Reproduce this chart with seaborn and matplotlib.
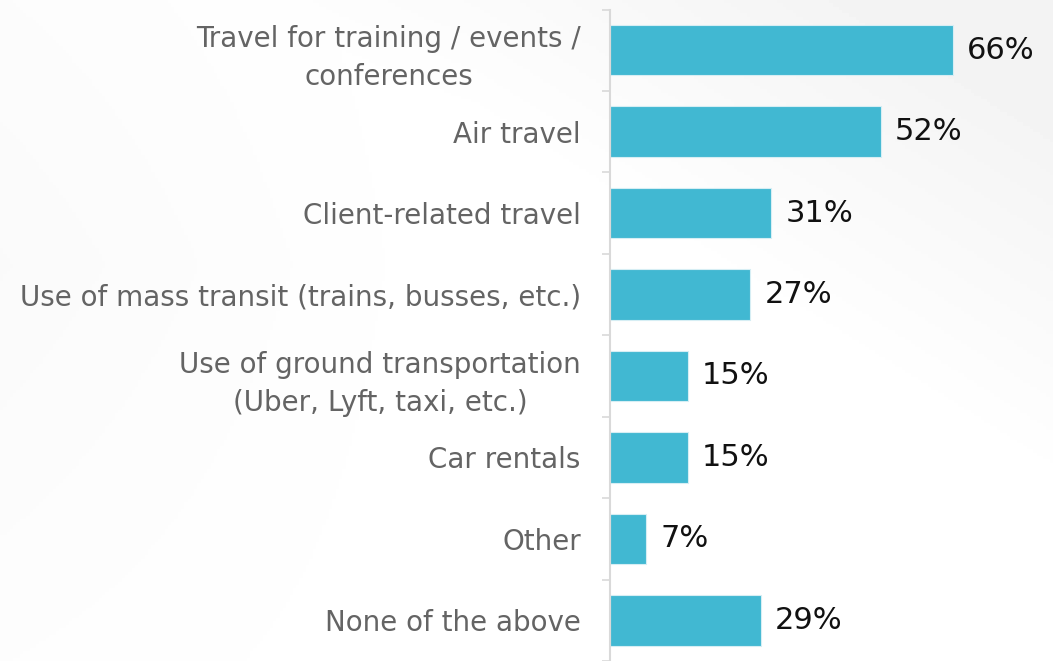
import numpy as np
import pandas as pd
import matplotlib
matplotlib.use('Agg')
import matplotlib.pyplot as plt
import seaborn as sns

categories = [
    'Travel for training / events /\nconferences',
    'Air travel',
    'Client-related travel',
    'Use of mass transit (trains, busses, etc.)',
    'Use of ground transportation\n(Uber, Lyft, taxi, etc.)',
    'Car rentals',
    'Other',
    'None of the above',
]
values = [66, 52, 31, 27, 15, 15, 7, 29]
value_labels = ['66%', '52%', '31%', '27%', '15%', '15%', '7%', '29%']

df = pd.DataFrame({'category': categories, 'pct': values})

sns.set_theme(style='white')
plt.rcParams['font.family'] = ['DejaVu Sans']

W, H = 1053, 661
fig = plt.figure(figsize=(W / 100, H / 100), dpi=100)

# soft grey background shading like the slide
bg = fig.add_axes([0, 0, 1, 1], zorder=-10)
yy, xx = np.mgrid[0:1:200j, 0:1:320j]
shade = 0.05 * np.clip((xx - yy) * 1.6 - 0.4, 0, 1) + 0.02 * np.clip(1 - xx * 2.2, 0, 1) * (1 - abs(yy - 0.4))
bg.imshow(1 - shade, cmap='gray', vmin=0, vmax=1, aspect='auto', extent=[0, 1, 0, 1])
bg.axis('off')

ax = fig.add_axes([610 / W, 0, 412 / W, (H - 9.5) / H])
ax.patch.set_alpha(0)
sns.barplot(data=df, x='pct', y='category', orient='h', color='#41B8D2',
            saturation=1, width=0.62, edgecolor='#d6eef4', linewidth=0.8, ax=ax)

ax.set_xlim(0, 79.2)
ax.set_ylim(7.445, -0.5)
ax.set_xlabel('')
ax.set_ylabel('')
ax.set_xticks([])

for i, (v, lab) in enumerate(zip(values, value_labels)):
    ax.text(v + 14 / 5.2, i, lab, va='center', ha='left', fontsize=22,
            color='#111111', clip_on=False)

ax.set_yticks(range(len(categories)))
ax.set_yticklabels(categories, fontsize=20, color='#646464', linespacing=1.45)
ax.set_yticks(np.arange(-0.5, 8, 1), minor=True)
ax.tick_params(axis='y', which='major', length=0, pad=21)
ax.tick_params(axis='y', which='minor', length=6, width=1.2, color='#d9d9d9', left=True)
for lab in ax.get_yticklabels():
    lab.set_horizontalalignment('right')
    lab.set_multialignment('center')

for s in ['top', 'right', 'bottom']:
    ax.spines[s].set_visible(False)
ax.spines['left'].set_color('#d9d9d9')
ax.spines['left'].set_linewidth(1.5)

fig.savefig('out.png', dpi=100)
